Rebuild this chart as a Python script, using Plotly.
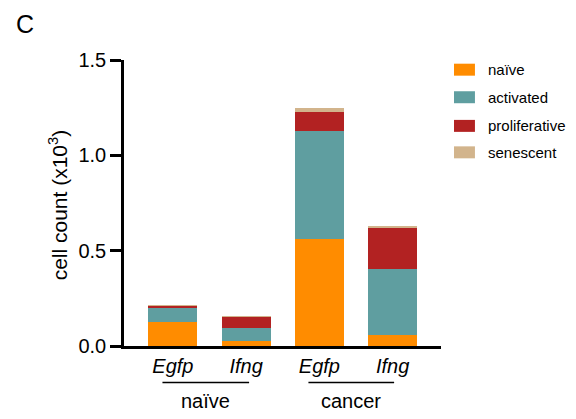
import plotly.graph_objects as go

# ---- data ----
samples = ["Egfp", "Ifng", "Egfp", "Ifng"]
groups = ["naïve", "cancer"]
states = ["naïve", "activated", "proliferative", "senescent"]
naive_vals = [0.125, 0.024, 0.563, 0.057]
activated_vals = [0.077, 0.073, 0.565, 0.349]
proliferative_vals = [0.010, 0.057, 0.100, 0.214]
senescent_vals = [0.001, 0.001, 0.021, 0.011]
colors = ["#FF8C00", "#5F9EA0", "#B22222", "#D2B48C"]
yticks = [0.0, 0.5, 1.0, 1.5]
ytick_text = ["0.0", "0.5", "1.0", "1.5"]

series = [naive_vals, activated_vals, proliferative_vals, senescent_vals]

W, H = 576, 419
L, R, T, B = 123.5, 441.0, 60.0, 346.5
FONT = "Arial, Liberation Sans, Helvetica, sans-serif"


def px(x):
    return (x - L) / (R - L)


def py(y):
    return (B - y) / (B - T)


xpos = list(range(len(samples)))

fig = go.Figure()
for name, vals, col in zip(states, series, colors):
    fig.add_trace(go.Bar(x=xpos, y=vals, name=name, marker=dict(color=col, line=dict(width=0)),
                         width=0.668, showlegend=False))

fig.update_layout(
    barmode="stack",
    width=W, height=H,
    margin=dict(l=L, r=W - R, t=T, b=H - B, pad=0),
    plot_bgcolor="white", paper_bgcolor="white",
    font=dict(family=FONT, color="black"),
    xaxis=dict(range=[-0.668, 3.66], tickvals=xpos, ticktext=[f"<i>{s}</i>" for s in samples],
               showline=True, linecolor="black", linewidth=2.5, ticks="", showgrid=False,
               zeroline=False, tickfont=dict(size=20, family=FONT, color="black")),
    yaxis=dict(range=[0, 1.5], tickvals=yticks, ticktext=ytick_text, showline=True,
               linecolor="black", linewidth=2.5, ticks="outside", ticklen=11, tickwidth=2.5,
               tickcolor="black", showgrid=False, zeroline=False,
               tickfont=dict(size=20, family=FONT, color="black")),
)

# y axis title
fig.add_annotation(text="cell count (x10<sup>3</sup>)", x=px(57), y=py(205), xref="paper", yref="paper",
                   textangle=-90, showarrow=False, font=dict(size=21, family=FONT, color="black"),
                   xanchor="center", yanchor="middle")

# panel label
fig.add_annotation(text="C", x=px(13), y=py(24), xref="paper", yref="paper", showarrow=False,
                   xanchor="left", yanchor="middle", font=dict(size=25, family=FONT, color="black"))

# group lines and labels
group_spans = [(-0.143, 1.04), (1.85, 3.02)]
for g, (a, b) in zip(groups, group_spans):
    fig.add_shape(type="line", xref="x", yref="paper", x0=a, x1=b, y0=py(383), y1=py(383),
                  line=dict(color="black", width=1.5))
    fig.add_annotation(text=g, x=(a + b) / 2, y=py(402), xref="x", yref="paper", showarrow=False,
                       xanchor="center", yanchor="middle", font=dict(size=20, family=FONT, color="black"))

# legend (manual)
row_y = [69.7, 97.3, 126.0, 152.5]
for name, col, yc in zip(states, colors, row_y):
    fig.add_shape(type="rect", xref="paper", yref="paper", x0=px(454), x1=px(475),
                  y0=py(yc + 6), y1=py(yc - 6), fillcolor=col, line=dict(width=0))
    fig.add_annotation(text=name, x=px(486), y=py(yc), xref="paper", yref="paper", showarrow=False,
                       xanchor="left", yanchor="middle", font=dict(size=15, family=FONT, color="black"))

fig.write_html("out.html")
